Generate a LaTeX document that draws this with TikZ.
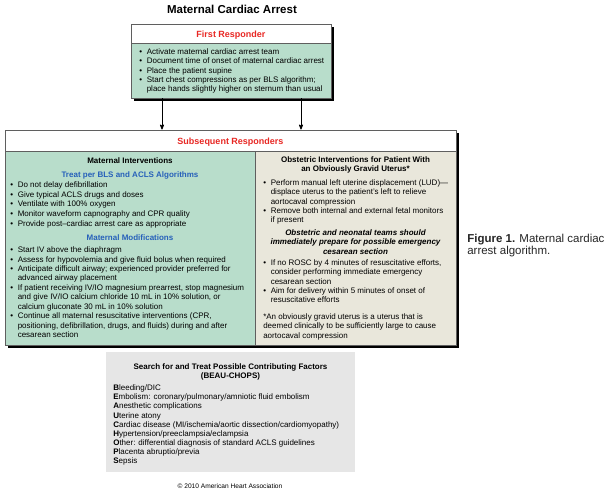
\documentclass[tikz,border=0pt]{standalone}
\usepackage{fontspec}
\setmainfont{Liberation Sans}
\usepackage{xcolor}
\usetikzlibrary{arrows, positioning, shadows}

\definecolor{mint}{RGB}{184,221,203}
\definecolor{sand}{RGB}{233,231,219}
\definecolor{fog}{RGB}{230,230,230}
\definecolor{alertred}{RGB}{232,40,36}
\definecolor{ahablue}{RGB}{38,96,186}
\definecolor{edge}{RGB}{95,95,95}

\newcommand{\bul}{\makebox[7.5pt][l]{\textbullet}}
\newcommand{\ind}{\hspace*{7.5pt}}
\newcommand{\txt}{\fontsize{8}{9.3}\selectfont}

\begin{document}
\begin{tikzpicture}[x=1pt,y=-1pt,>=stealth',semithick]
        \tikzstyle{frame}=[draw=edge,line width=0.5pt,rectangle,inner sep=0pt,outer sep=0pt,anchor=north west,
                           drop shadow={shadow xshift=2.5pt,shadow yshift=-2.5pt,fill=black,opacity=1}]
        \tikzstyle{pane}=[draw=edge,line width=0.5pt,rectangle,inner sep=0pt,outer sep=0pt,anchor=north west]
        \tikzstyle{hdr}=[pane,fill=white,text=alertred,font=\fontsize{9}{10}\selectfont\bfseries,
                         text height=.72em,text depth=0pt]
        \tikzstyle{lbl}=[inner sep=0pt,text height=.72em,text depth=0pt]
        \tikzstyle{block}=[inner sep=0pt,anchor=north west,align=left,font=\txt]
        \tikzstyle{cblock}=[inner sep=0pt,anchor=north,align=center,font=\txt]
        \tikzstyle{arr}=[->,black,line width=0.8pt,shorten >=0.5pt]

        \useasboundingbox (0,0) rectangle (614,496);

        % title
        \node[lbl,font=\fontsize{11.5}{13}\selectfont\bfseries] (title) at (232,9.5) {Maternal Cardiac Arrest};

        % first responder
        \node[frame,fill=mint,minimum width=200,minimum height=74] (fr) at (131,24) {};
        \node[hdr,minimum width=200,minimum height=19] (frh) at (fr.north west) {First Responder};
        \node[block] (frl) at (139,48.5) {\bul Activate maternal cardiac arrest team\\
            \bul Document time of onset of maternal cardiac arrest\\
            \bul Place the patient supine\\
            \bul Start chest compressions as per BLS algorithm;\\
            \ind place hands slightly higher on sternum than usual};

        % subsequent responders
        \node[frame,fill=mint,minimum width=451,minimum height=215] (sr) at (5,130) {};
        \node[hdr,minimum width=451,minimum height=21] (srh) at (sr.north west) {Subsequent Responders};
        \node[pane,fill=mint,minimum width=250,minimum height=194] (mat) at (srh.south west) {};
        \node[pane,fill=sand,minimum width=201,minimum height=194] (obs) at (mat.north east) {};

        % maternal interventions
        \node[lbl,font=\txt\bfseries] (mat1) at (130,160) {Maternal Interventions};
        \node[lbl,font=\txt\bfseries,text=ahablue] (mat2) at (130,174) {Treat per BLS and ACLS Algorithms};
        \node[block,font=\fontsize{8}{9.6}\selectfont] (matl) at (10,181.5) {\bul Do not delay defibrillation\\
            \bul Give typical ACLS drugs and doses\\
            \bul Ventilate with 100\% oxygen\\
            \bul Monitor waveform capnography and CPR quality\\
            \bul Provide post--cardiac arrest care as appropriate};
        \node[lbl,font=\txt\bfseries,text=ahablue] (mat3) at (130,237) {Maternal Modifications};
        \node[block,font=\fontsize{8}{9.45}\selectfont] (modl) at (10,246.5) {\bul Start IV above the diaphragm\\
            \bul Assess for hypovolemia and give fluid bolus when required\\
            \bul Anticipate difficult airway; experienced provider preferred for\\
            \ind advanced airway placement\\
            \bul If patient receiving IV/IO magnesium prearrest, stop magnesium\\
            \ind and give IV/IO calcium chloride 10 mL in 10\% solution, or\\
            \ind calcium gluconate 30 mL in 10\% solution\\
            \bul Continue all maternal resuscitative interventions (CPR,\\
            \ind positioning, defibrillation, drugs, and fluids) during and after\\
            \ind cesarean section};

        % obstetric interventions
        \node[cblock,font=\txt\bfseries] (obs1) at (355.5,156.5) {Obstetric Interventions for Patient With\\
            an Obviously Gravid Uterus*};
        \node[block] (obsl) at (263,179.5) {\bul Perform manual left uterine displacement (LUD)---\\
            \ind displace uterus to the patient's left to relieve\\
            \ind aortocaval compression\\
            \bul Remove both internal and external fetal monitors\\
            \ind if present};
        \node[cblock,font=\txt\bfseries\itshape] (obs2) at (355.5,229.5) {Obstetric and neonatal teams should\\
            immediately prepare for possible emergency\\
            cesarean section};
        \node[block] (obsm) at (263,259.5) {\bul If no ROSC by 4 minutes of resuscitative efforts,\\
            \ind consider performing immediate emergency\\
            \ind cesarean section\\
            \bul Aim for delivery within 5 minutes of onset of\\
            \ind resuscitative efforts};
        \node[block] (note) at (263,313.5) {*An obviously gravid uterus is a uterus that is\\
            deemed clinically to be sufficiently large to cause\\
            aortocaval compression};

        % contributing factors
        \node[pane,draw=none,fill=fog,minimum width=249,minimum height=120] (bc) at (106,352) {};
        \node[cblock,font=\txt\bfseries] (bc1) at (230.5,363.5) {Search for and Treat Possible Contributing Factors\\
            (BEAU-CHOPS)};
        \node[block,font=\fontsize{8}{9.15}\selectfont] (bcl) at (113,384.5) {\textbf{B}leeding/DIC\\
            \textbf{E}mbolism: coronary/pulmonary/amniotic fluid embolism\\
            \textbf{A}nesthetic complications\\
            \textbf{U}terine atony\\
            \textbf{C}ardiac disease (MI/ischemia/aortic dissection/cardiomyopathy)\\
            \textbf{H}ypertension/preeclampsia/eclampsia\\
            \textbf{O}ther: differential diagnosis of standard ACLS guidelines\\
            \textbf{P}lacenta abruptio/previa\\
            \textbf{S}epsis};

        \node[lbl,font=\fontsize{6.6}{7.5}\selectfont] (copy) at (230,485) {\textcopyright\ 2010 American Heart Association};

        % caption
        \node[block,font=\fontsize{11.5}{12}\selectfont,text=black!85] (cap) at (467,233.5) {\textbf{Figure 1.} Maternal cardiac\\
            arrest algorithm.};

        % connectors
        \coordinate (ca) at (162,0);
        \coordinate (cb) at (301,0);
        \draw[arr] (fr.south -| ca) -- (sr.north -| ca);
        \draw[arr] (fr.south -| cb) -- (sr.north -| cb);
    \end{tikzpicture}
\end{document}
